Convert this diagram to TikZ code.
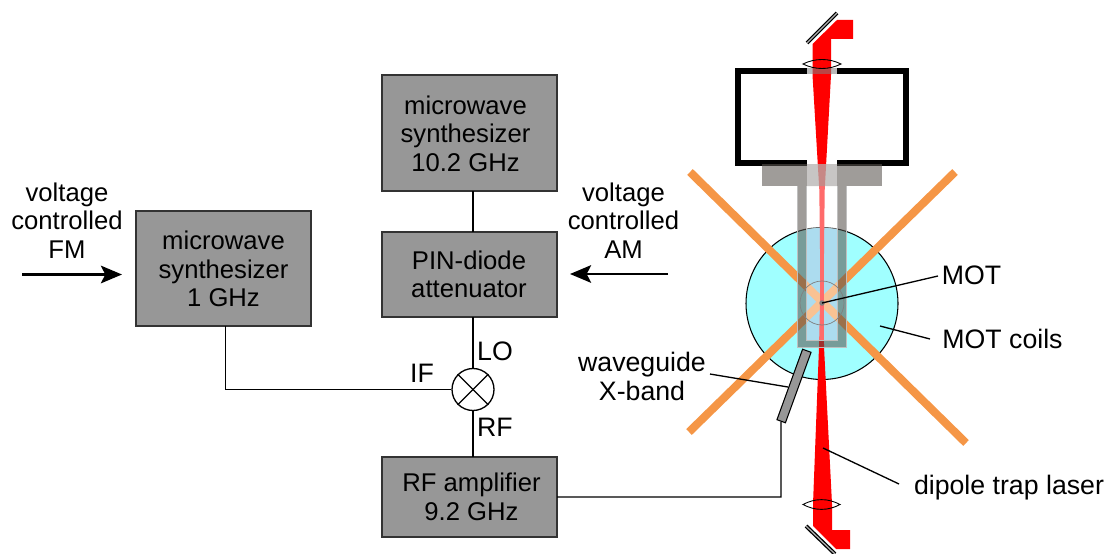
\documentclass[tikz,border=0pt]{standalone}
\usepackage{fontspec}
\setmainfont{Liberation Sans}
\usepackage{xcolor}
\usetikzlibrary{arrows.meta}
\definecolor{BoxGray}{RGB}{151,151,151}
\definecolor{CoilOrange}{RGB}{245,150,70}
\definecolor{CoilCyan}{RGB}{160,255,255}
\definecolor{InnerBlue}{RGB}{112,195,229}
\definecolor{WallGray}{RGB}{90,85,80}
\definecolor{BeamRed}{RGB}{255,0,0}
\tikzset{
    devicebox/.style={draw=black!80, fill=BoxGray, line width=0.6pt, minimum width=3.5cm},
    plainlabel/.style={align=center, font=\fontsize{14.6}{16.3}\selectfont},
    widelabel/.style={align=center, font=\fontsize{15.2}{16.3}\selectfont},
    wire/.style={line width=0.75pt},
    leader/.style={line width=0.75pt},
    ctrlarrow/.style={-{Stealth[length=12pt,width=10pt,inset=2.5pt]}, line width=1.4pt},
    lens/.style={draw=black, line width=0.5pt, fill=none},
    mirror/.style={draw=black, line width=2.2pt},
    mirrorface/.style={draw=white!70!black, line width=0.7pt}
}
\begin{document}
\begin{tikzpicture}[x=0.02cm, y=-0.02cm]
        \useasboundingbox (0,0) rectangle (1108,554);

        % Draw the blocks of the microwave chain
        \node[devicebox, minimum height=2.32cm] (synthx) at (469.5,133) {};
        \node[devicebox, minimum height=1.7cm] (pin) at (469.5,274.5) {};
        \node[devicebox, minimum height=2.3cm] (synthone) at (223.5,268.5) {};
        \node[devicebox, minimum height=1.6cm] (amp) at (469.5,497) {};
        \node[plainlabel] (synthxtext) at (465.5,133.5) {microwave\\synthesizer\\10.2 GHz};
        \node[plainlabel] (pintext) at (469,274.5) {PIN-diode\\attenuator};
        \node[plainlabel] (synthonetext) at (223.5,269) {microwave\\synthesizer\\1 GHz};
        \node[plainlabel] (amptext) at (471.5,497) {RF amplifier\\9.2 GHz};

        % Draw the mixer
        \node[draw, circle, fill=white, line width=0.75pt, minimum size=0.84cm, inner sep=0pt] (mixer) at (473,389.5) {};
        \draw[wire] (mixer.north west) -- (mixer.south east);
        \draw[wire] (mixer.north east) -- (mixer.south west);

        % Draw the connections
        \coordinate (pintop) at (473,232);
        \coordinate (pinlow) at (473,317);
        \coordinate (ampin) at (473,457);
        \coordinate (synthlow) at (473,191);
        \coordinate (synthonelow) at (225.5,326);
        \draw[wire] (synthlow) -- (pintop);
        \draw[wire] (pinlow) -- (mixer.north);
        \draw[wire] (mixer.south) -- (ampin);
        \draw[wire] (synthonelow) |- (mixer.west);

        % Draw the control arrows
        \coordinate (fmfrom) at (22,274.5);
        \coordinate (fmto) at (122,274.5);
        \coordinate (amfrom) at (668,274);
        \coordinate (amto) at (570,274);
        \draw[ctrlarrow] (fmfrom) -- (fmto);
        \draw[ctrlarrow] (amfrom) -- (amto);

        % Draw the coil disc and the part of it seen through the tube
        \fill[CoilCyan] (822,303.5) circle (76);
        \draw[line width=0.6pt] (822,303.5) circle (76);
        \begin{scope}
            \clip (822,303.5) circle (75.5);
            \fill[InnerBlue] (806,200) rectangle (838,341);
        \end{scope}

        % Draw the crossed coils
        \draw[CoilOrange, line width=4.6pt] (690,172) -- (966,443);
        \draw[CoilOrange, line width=4.6pt] (955,172) -- (689,432);

        % Draw the chamber
        \draw[line width=3.4pt] (806.5,71) -- (738,71) -- (738,163) -- (807,163);
        \draw[line width=3.4pt] (837,71) -- (906,71) -- (906,163) -- (837,163);

        % Draw the laser beam
        \fill[BeamRed] (812.5,44) -- (837,20) -- (853,20) -- (853,39) -- (831,39) -- (831,75) -- (824.7,190) -- (824,250) -- (823.8,303) -- (824,347) -- (832,504) -- (832,530) -- (850,530) -- (850,549) -- (836,549) -- (813,526) -- (813,504) -- (819,347) -- (820,303) -- (820,250) -- (819.3,190) -- (812.5,75) -- cycle;

        % Draw the flange and the tube
        \fill[WallGray, opacity=0.58] (762,164) rectangle (882,186);
        \fill[WallGray, opacity=0.58, even odd rule] (798,186) -- (798,347) -- (846,347) -- (846,186) -- cycle (806,186) -- (806,341) -- (838,341) -- (838,186) -- cycle;
        \fill[white, opacity=0.42] (807,164) rectangle (837,186);
        \fill[white, opacity=0.42] (806,186) rectangle (838,341);
        \fill[gray, opacity=0.55] (807,68) rectangle (837,74);
        \draw[white!75!black, line width=0.4pt] (797.6,186) -- (797.6,347.4) -- (846.4,347.4) -- (846.4,186);
        \draw[white!75!black, line width=0.4pt] (806.4,186) -- (806.4,340.6) -- (837.6,340.6) -- (837.6,186);

        % Draw the trap region
        \draw[gray, line width=0.4pt] (822,303) circle (22);
        \node[circle, fill=gray, minimum size=0.11cm, inner sep=0pt] (cloud) at (822,303) {};

        % Draw the lenses and mirrors
        \draw[lens] (803,64) .. controls (815,58) and (829,58) .. (841,64) .. controls (829,70) and (815,70) .. (803,64) -- cycle;
        \draw[lens] (803,504.5) .. controls (815,498) and (828,498) .. (840,504.5) .. controls (828,511) and (815,511) .. (803,504.5) -- cycle;
        \draw[mirror] (807,43) -- (837,13);
        \draw[mirrorface] (807,43) -- (837,13);
        \draw[mirror] (806,526) -- (835,554);
        \draw[mirrorface] (806,526) -- (835,554);

        % Draw the waveguide
        \node[draw=black, fill=BoxGray, line width=0.6pt, minimum width=0.18cm, minimum height=1.5cm, inner sep=0pt, rotate=-20] (guide) at (794,386) {};
        \coordinate (guidefeed) at (781,497);
        \coordinate (ampout) at (557,497);
        \draw[wire] (guide.south) -- (guidefeed) -- (ampout);

        % Draw the labels and their leaders
        \node[plainlabel] (fmlabel) at (67,220.5) {voltage\\controlled\\FM};
        \node[plainlabel] (amlabel) at (623.5,220.5) {voltage\\controlled\\AM};
        \node[widelabel] (iflabel) at (422,373) {IF};
        \node[widelabel] (lolabel) at (495,351) {LO};
        \node[widelabel] (rflabel) at (495,427) {RF};
        \node[widelabel] (motlabel) at (971.5,275) {MOT};
        \node[widelabel] (coillabel) at (1002.5,339) {MOT coils};
        \node[widelabel] (guidelabel) at (642,376.5) {waveguide\\X-band};
        \node[widelabel] (laserlabel) at (1009,488) {dipole trap laser};

        \coordinate (motfrom) at (938,276);
        \coordinate (coilfrom) at (930,339);
        \coordinate (coilto) at (880,326);
        \coordinate (guidefrom) at (710,374);
        \coordinate (guideto) at (788,387);
        \coordinate (laserfrom) at (899,484);
        \coordinate (laserto) at (823,448);
        \draw[leader] (motfrom) -- (cloud.center);
        \draw[leader] (coilfrom) -- (coilto);
        \draw[leader] (guidefrom) -- (guideto);
        \draw[leader] (laserfrom) -- (laserto);
\end{tikzpicture}
\end{document}
